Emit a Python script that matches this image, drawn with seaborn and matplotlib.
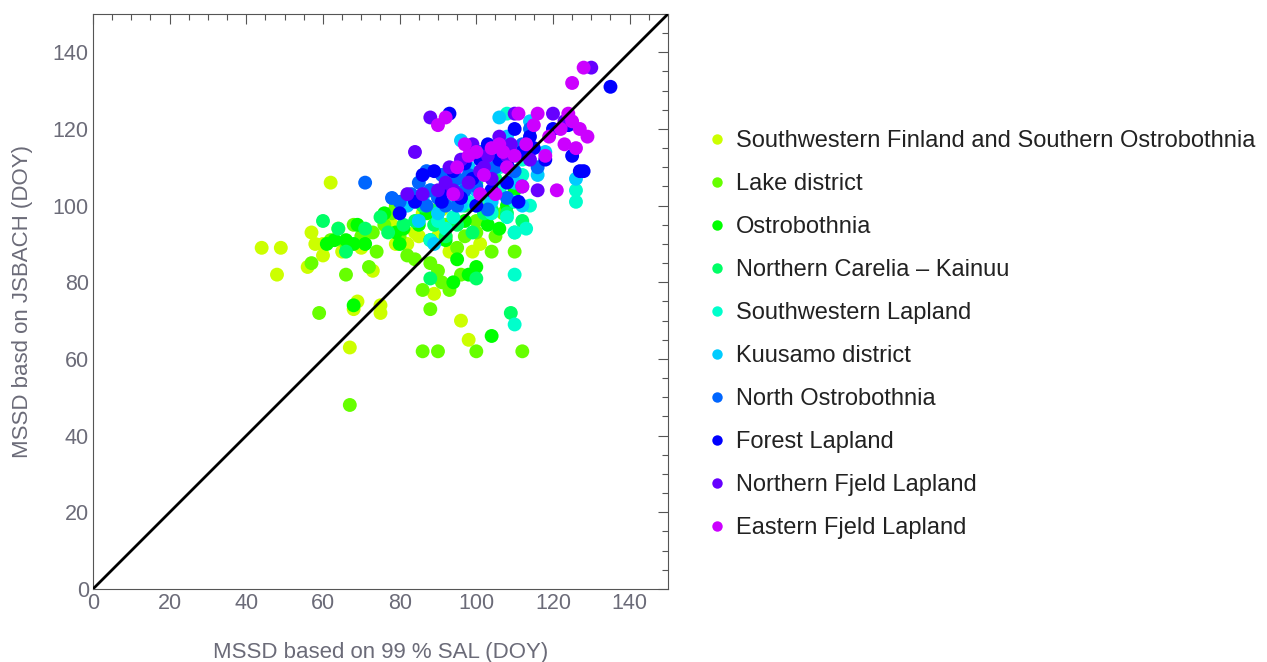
import colorsys
import numpy as np
import pandas as pd
import matplotlib
matplotlib.use("Agg")
import matplotlib.pyplot as plt
from matplotlib.ticker import MultipleLocator
import seaborn as sns

sns.set_style("white")
plt.rcParams["font.family"] = ["Liberation Sans", "DejaVu Sans"]

REGIONS = [
    "Southwestern Finland and Southern Ostrobothnia",
    "Lake district",
    "Ostrobothnia",
    "Northern Carelia \u2013 Kainuu",
    "Southwestern Lapland",
    "Kuusamo district",
    "North Ostrobothnia",
    "Forest Lapland",
    "Northern Fjeld Lapland",
    "Eastern Fjeld Lapland",
]

# (SAL, JSBACH) pairs, one list per region
sw_finland = [(44, 89), (49, 89), (48, 82), (57, 93), (58, 90), (62, 106), (60, 87), (65, 88),
              (67, 63), (68, 73), (69, 75), (70, 89), (73, 83), (75, 72), (75, 74), (79, 90),
              (82, 90), (84, 93), (86, 98), (88, 98), (89, 77), (88, 99), (90, 92), (92, 92),
              (93, 88), (96, 70), (98, 65), (99, 88), (101, 90), (91, 99), (94, 96), (85, 92),
              (78, 95), (72, 93), (64, 94), (60, 90), (56, 84)]
lake = [(59, 72), (57, 85), (62, 91), (66, 82), (66, 90), (68, 95), (70, 92), (72, 84),
        (74, 88), (76, 95), (78, 98), (80, 92), (82, 87), (84, 86), (86, 78), (88, 73),
        (90, 83), (91, 80), (93, 78), (95, 89), (96, 82), (97, 92), (100, 93), (100, 62),
        (104, 88), (105, 92), (107, 98), (110, 88), (112, 62), (67, 48), (86, 62), (90, 62),
        (73, 93), (79, 100), (100, 96), (102, 100), (92, 95), (88, 85)]
ostro = [(61, 90), (63, 91), (66, 91), (68, 90), (69, 95), (71, 90), (76, 98), (79, 93),
         (81, 94), (84, 102), (87, 98), (88, 91), (89, 98), (92, 91), (94, 80), (95, 86),
         (98, 82), (100, 84), (103, 95), (104, 66), (106, 94), (108, 100), (110, 104),
         (68, 74), (80, 90), (91, 103), (97, 96), (85, 95)]
carelia = [(60, 96), (64, 94), (66, 88), (71, 94), (75, 97), (77, 93), (81, 95), (84, 96),
           (86, 100), (89, 95), (90, 99), (92, 92), (94, 103), (95, 95), (97, 100), (99, 93),
           (100, 81), (102, 98), (104, 99), (106, 104), (108, 98), (109, 72), (110, 93),
           (112, 96), (88, 81), (96, 104), (100, 106), (105, 107)]
sw_lapland = [(88, 91), (90, 96), (92, 94), (94, 97), (95, 101), (98, 101), (100, 100),
              (103, 102), (104, 98), (106, 104), (108, 97), (109, 107), (110, 93), (110, 101),
              (110, 69), (110, 82), (112, 108), (113, 94), (114, 100), (126, 104), (126, 101),
              (112, 112), (96, 105), (106, 110), (108, 124), (102, 109)]
kuusamo = [(82, 100), (86, 102), (88, 104), (90, 98), (92, 103), (94, 107), (96, 117),
           (98, 110), (100, 104), (102, 108), (105, 113), (106, 123), (108, 118), (110, 106),
           (112, 100), (114, 122), (116, 108), (118, 114), (126, 107), (96, 100), (89, 90),
           (104, 101), (100, 114), (85, 96)]
n_ostro = [(71, 106), (78, 102), (80, 101), (83, 103), (85, 106), (87, 100), (88, 104),
           (90, 102), (91, 108), (92, 100), (93, 105), (95, 107), (97, 104), (98, 108),
           (100, 105), (102, 111), (104, 104), (105, 110), (107, 113), (108, 102), (110, 109),
           (112, 116), (114, 120), (116, 110), (95, 100), (87, 109), (103, 99), (101, 114)]
forest = [(80, 98), (84, 101), (86, 108), (89, 109), (91, 101), (92, 104), (93, 124), (94, 109),
          (96, 102), (97, 111), (99, 107), (101, 112), (103, 116), (104, 104), (106, 112),
          (108, 111), (110, 120), (111, 101), (112, 114), (114, 118), (115, 115), (118, 112),
          (120, 120), (124, 121), (125, 113), (127, 109), (128, 109), (135, 131), (100, 100),
          (108, 106)]
n_fjeld = [(84, 114), (86, 103), (88, 123), (90, 104), (92, 106), (93, 110), (95, 103),
           (96, 112), (98, 106), (99, 116), (101, 109), (103, 113), (104, 107), (106, 118),
           (108, 113), (109, 116), (110, 124), (112, 105), (114, 112), (116, 104), (120, 124),
           (123, 122), (130, 136), (82, 103), (94, 104), (102, 110)]
e_fjeld = [(90, 121), (92, 123), (94, 103), (95, 110), (97, 116), (98, 113), (100, 114),
           (101, 103), (102, 108), (104, 115), (105, 103), (106, 116), (108, 110), (110, 113),
           (111, 124), (112, 105), (113, 116), (115, 121), (118, 113), (119, 118), (121, 104),
           (122, 120), (123, 116), (124, 124), (125, 122), (126, 115), (127, 120), (128, 136),
           (125, 132), (129, 118), (116, 124), (107, 114)]

groups = [sw_finland, lake, ostro, carelia, sw_lapland, kuusamo, n_ostro, forest, n_fjeld, e_fjeld]
hues = [0.2 + i * 0.0667 for i in range(len(REGIONS))]
palette = {r: colorsys.hsv_to_rgb(h, 1, 1) for r, h in zip(REGIONS, hues)}

rows = []
for region, pts in zip(REGIONS, groups):
    for sal, jsb in pts:
        rows.append({"sal": sal, "jsbach": jsb, "region": region})
df = pd.DataFrame(rows)

GREY = "#6b6b78"
fig = plt.figure(figsize=(12.67, 6.62), dpi=100)
ax = fig.add_axes([0.0734, 0.1103, 0.4538, 0.8686])

sns.scatterplot(data=df, x="sal", y="jsbach", hue="region", hue_order=REGIONS,
                palette=palette, s=100, linewidth=0, alpha=1, ax=ax, zorder=2)
ax.plot([0, 150], [0, 150], color="black", lw=2, zorder=3)

ax.set_xlim(0, 150)
ax.set_ylim(0, 150)
ax.xaxis.set_major_locator(MultipleLocator(20))
ax.yaxis.set_major_locator(MultipleLocator(20))
ax.xaxis.set_minor_locator(MultipleLocator(5))
ax.yaxis.set_minor_locator(MultipleLocator(5))
ax.tick_params(which="both", direction="in", top=True, right=True, colors="#555555",
               labelcolor=GREY, labelsize=15.5, width=0.8, pad=3)
ax.tick_params(which="major", length=7)
ax.tick_params(which="minor", length=4)
for sp in ax.spines.values():
    sp.set_color("#555555")
    sp.set_linewidth(0.8)
ax.set_xlabel("MSSD based on 99 % SAL (DOY)", color=GREY, fontsize=16, labelpad=20)
ax.set_ylabel("MSSD basd on JSBACH (DOY)", color=GREY, fontsize=16, labelpad=14)

leg = ax.legend(loc="upper left", bbox_to_anchor=(0.5564, 0.8036),
                bbox_transform=fig.transFigure, frameon=False, borderpad=0,
                borderaxespad=0, fontsize=17, labelspacing=0.89, handlelength=1.0,
                handletextpad=0.3, markerscale=0.75)
for t in leg.get_texts():
    t.set_color("#222222")

fig.savefig("out.png", dpi=100)
